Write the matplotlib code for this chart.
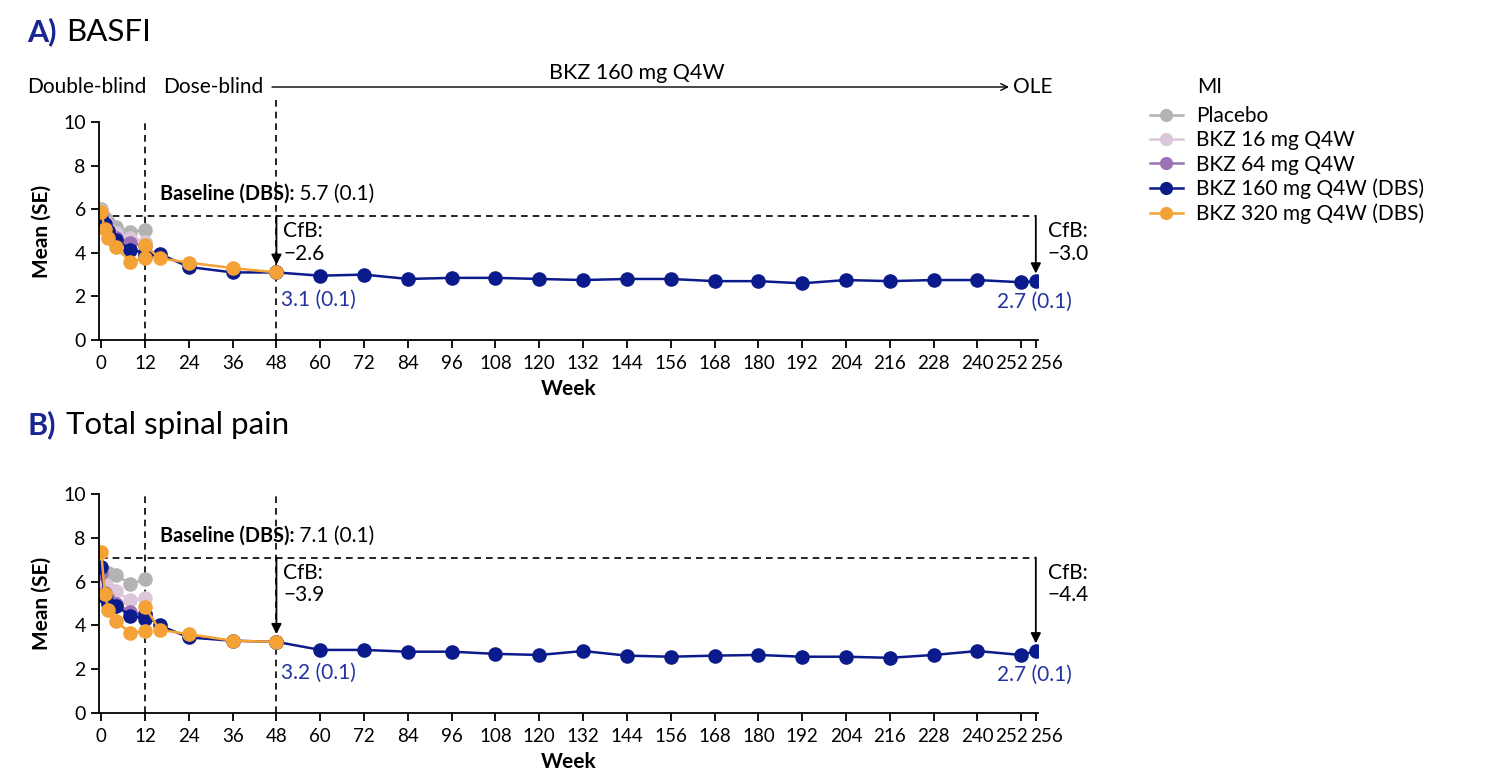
import matplotlib.pyplot as plt
from matplotlib.lines import Line2D
from matplotlib.transforms import ScaledTranslation

plt.rcParams["font.family"] = ["Lato", "DejaVu Sans"]
plt.rcParams["font.size"] = 15

# ---- data ----
weeks_db = [0, 1, 2, 4, 8, 12]
weeks_dose = [12, 16, 24, 36, 48]
weeks_ole = [48, 60, 72, 84, 96, 108, 120, 132, 144, 156, 168, 180, 192,
             204, 216, 228, 240, 252, 256]
xticks = [0, 12, 24, 36, 48, 60, 72, 84, 96, 108, 120, 132, 144, 156, 168,
          180, 192, 204, 216, 228, 240, 252, 256]

# A) BASFI
basfi_pbo = [6.0, 5.6, 5.4, 5.2, 4.95, 5.05]
basfi_16 = [5.9, 5.4, 5.1, 4.9, 4.7, 4.5]
basfi_64 = [5.8, 5.3, 5.0, 4.7, 4.45, 4.3]
basfi_160_db = [5.6, 5.3, 5.0, 4.6, 4.15, 4.0]
basfi_320_db = [5.85, 5.1, 4.7, 4.25, 3.6, 3.75]
basfi_160_dose = [3.85, 3.95, 3.35, 3.1, 3.1]
basfi_320_dose = [4.35, 3.75, 3.55, 3.3, 3.1]
basfi_ole = [3.1, 2.95, 3.0, 2.8, 2.85, 2.85, 2.8, 2.75, 2.8, 2.8, 2.7, 2.7,
             2.6, 2.75, 2.7, 2.75, 2.75, 2.65, 2.7]

# B) Total spinal pain
pain_pbo = [6.6, 6.45, 6.4, 6.3, 5.9, 6.1]
pain_16 = [6.5, 5.9, 5.7, 5.55, 5.15, 5.25]
pain_64 = [6.4, 5.5, 5.2, 5.0, 4.6, 4.5]
pain_160_db = [6.65, 5.3, 5.0, 4.9, 4.45, 4.3]
pain_320_db = [7.35, 5.45, 4.7, 4.2, 3.65, 3.75]
pain_160_dose = [4.5, 4.0, 3.45, 3.3, 3.25]
pain_320_dose = [4.85, 3.8, 3.6, 3.3, 3.25]
pain_ole = [3.25, 2.88, 2.88, 2.8, 2.8, 2.7, 2.65, 2.83, 2.62, 2.57, 2.62,
            2.65, 2.57, 2.57, 2.52, 2.65, 2.83, 2.65, 2.83]

labels = ["Placebo", "BKZ 16 mg Q4W", "BKZ 64 mg Q4W",
          "BKZ 160 mg Q4W (DBS)", "BKZ 320 mg Q4W (DBS)"]
colors = ["#b3b3b3", "#dcc6da", "#9a72b5", "#0c1b8c", "#f4a236"]
NAVY_TXT = "#2433a0"
TITLE_BLUE = "#1a2690"

panels = [
    dict(letter="A)", name="BASFI", pbo=basfi_pbo, d16=basfi_16, d64=basfi_64,
         d160=basfi_160_db, d320=basfi_320_db, s160=basfi_160_dose,
         s320=basfi_320_dose, ole=basfi_ole, base=5.7, base_txt="5.7 (0.1)",
         cfb48="\u22122.6", cfb256="\u22123.0", v48="3.1 (0.1)", v256="2.7 (0.1)"),
    dict(letter="B)", name="Total spinal pain", pbo=pain_pbo, d16=pain_16,
         d64=pain_64, d160=pain_160_db, d320=pain_320_db, s160=pain_160_dose,
         s320=pain_320_dose, ole=pain_ole, base=7.1, base_txt="7.1 (0.1)",
         cfb48="\u22123.9", cfb256="\u22124.4", v48="3.2 (0.1)", v256="2.7 (0.1)"),
]

W, H = 1487, 779
fig = plt.figure(figsize=(W / 100, H / 100), dpi=100)

ax_rects = [(99, 122, 1038, 340), (99, 494, 1038, 713)]
title_y = [32, 425]

lkw = dict(lw=1.8, marker="o", markersize=10.5, markeredgewidth=0)
dash = (0, (4, 3))
axes = []

for p, (x0, y0, x1, y1), ty in zip(panels, ax_rects, title_y):
    ax = fig.add_axes([x0 / W, 1 - y1 / H, (x1 - x0) / W, (y1 - y0) / H])
    axes.append(ax)
    ax.plot(weeks_db, p["pbo"], color=colors[0], **lkw)
    ax.plot(weeks_db, p["d16"], color=colors[1], **lkw)
    ax.plot(weeks_db, p["d64"], color=colors[2], **lkw)
    ax.plot(weeks_db, p["d160"], color=colors[3], **lkw)
    ax.plot(weeks_ole, p["ole"], color=colors[3], **lkw)
    ax.plot(weeks_dose, p["s160"], color=colors[3], **lkw)
    ax.plot(weeks_db, p["d320"], color=colors[4], **lkw)
    ax.plot(weeks_dose, p["s320"], color=colors[4], **lkw)

    ax.set_xlim(-0.6, 256.6)
    ax.set_ylim(0, 10)
    ax.set_xticks(xticks)
    ax.set_yticks([0, 2, 4, 6, 8, 10])
    for s in ("top", "right"):
        ax.spines[s].set_visible(False)
    for s in ("left", "bottom"):
        ax.spines[s].set_linewidth(1.3)
    ax.tick_params(width=1.3, length=6, labelsize=14)
    ax.tick_params(axis="x", pad=5, labelsize=13.5)
    ax.set_xlabel("Week", fontweight="bold", fontsize=15, labelpad=5)
    ax.set_ylabel("Mean (SE)", fontweight="bold", fontsize=15, labelpad=8)

    # reference lines
    ax.plot([0, 256], [p["base"], p["base"]], color="black", lw=1.2,
            ls=dash, zorder=1)
    ax.plot([12, 12], [0, 10], color="black", lw=1.2, ls=dash, zorder=1)
    top48 = 11.2 if p["letter"] == "A)" else 10
    ax.plot([48, 48], [0, top48], color="black", lw=1.2, ls=dash,
            zorder=1, clip_on=False)

    # arrows from baseline to final values
    v48 = p["ole"][0]
    v256 = p["ole"][-1]
    for wk, v in ((48, v48), (256, v256)):
        ax.annotate("", xy=(wk, v + 0.35), xytext=(wk, p["base"]),
                    arrowprops=dict(arrowstyle="-|>", color="black", lw=1.3,
                                    mutation_scale=15, shrinkA=0, shrinkB=0),
                    annotation_clip=False)

    bt = ax.text(16, p["base"] + 1.0, "Baseline (DBS):", fontweight="bold",
                 fontsize=14.3, va="center", ha="left")
    ax.annotate(" " + p["base_txt"], xy=(1, 0), xycoords=bt, va="bottom",
                ha="left", fontsize=15)
    ax.text(49.8, p["base"] - 0.25, "CfB:\n" + p["cfb48"], fontsize=15,
            va="top", ha="left", linespacing=1.15)
    ax.text(259.3, p["base"] - 0.25, "CfB:\n" + p["cfb256"], fontsize=15,
            va="top", ha="left", linespacing=1.15, clip_on=False)
    ax.text(49.2, 1.85, p["v48"], color=NAVY_TXT, fontsize=15,
            va="center", ha="left")
    ax.text(266.0, 1.75, p["v256"], color=NAVY_TXT, fontsize=15,
            va="center", ha="right", clip_on=False)

    # panel title
    fig.text(27 / W, 1 - ty / H, p["letter"], color=TITLE_BLUE,
             fontweight="bold", fontsize=22, va="center", ha="left")
    fig.text(66 / W, 1 - ty / H, p["name"], fontsize=22.5, va="center",
             ha="left")

# separate the crowded 252 / 256 tick labels
for ax in axes:
    ticks = ax.xaxis.get_major_ticks()
    for tk, dx in ((ticks[-2], -10), (ticks[-1], 11)):
        tk.label1.set_transform(tk.label1.get_transform()
                                + ScaledTranslation(dx / 100, 0,
                                                    fig.dpi_scale_trans))

# period annotations above panel A
ya = 1 - 87 / H
fig.text(27 / W, ya, "Double-blind", fontsize=15, va="center", ha="left")
fig.text(163 / W, ya, "Dose-blind", fontsize=15, va="center", ha="left")
fig.text(1013 / W, ya, "OLE", fontsize=15, va="center", ha="left")
fig.text(637 / W, 1 - 73 / H, "BKZ 160 mg Q4W", fontsize=15.5, va="center",
         ha="center")
fig.add_artist(plt.Annotation("", xy=(1009 / W, ya), xytext=(272 / W, ya),
                              xycoords="figure fraction",
                              textcoords="figure fraction",
                              arrowprops=dict(arrowstyle="->", color="black",
                                              lw=1.0, shrinkA=0, shrinkB=0,
                                              mutation_scale=12)))

# legend (title placed by hand so it lines up with the labels)
fig.text(1197 / W, 1 - 87 / H, "MI", fontsize=15, va="center", ha="left")
handles = [Line2D([], [], color=c, lw=1.8, marker="o", markersize=9.5,
                  markeredgewidth=0) for c in colors]
fig.legend(handles, labels, loc="upper left",
           bbox_to_anchor=(1142 / W, 1 - 98 / H), frameon=False,
           fontsize=15, handlelength=1.55, handletextpad=0.65,
           labelspacing=0.2, borderaxespad=0)

fig.savefig("out.png", dpi=100)
